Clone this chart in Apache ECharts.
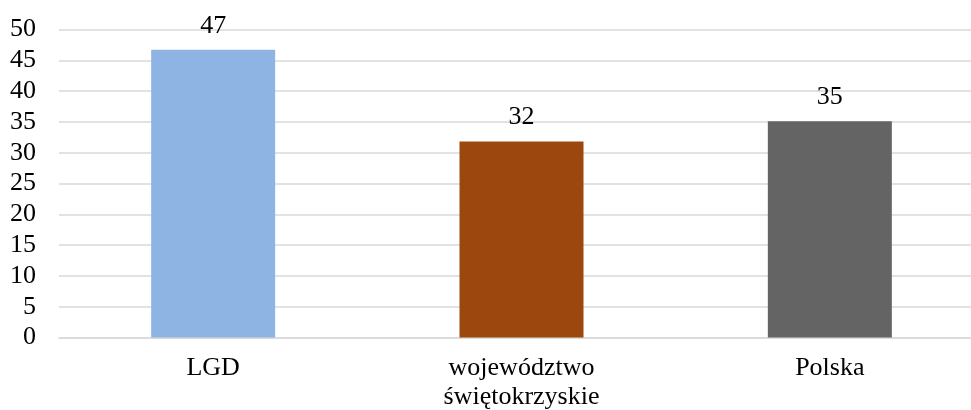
<!DOCTYPE html>
<html>
<head>
<meta charset="utf-8">
<script src="https://cdn.jsdelivr.net/npm/echarts@6/dist/echarts.min.js"></script>
<style>
  html, body { margin: 0; padding: 0; background: #fff; }
  #chart { width: 971px; height: 410px; }
</style>
</head>
<body>
<div id="chart"></div>
<script>
  const categories = ['LGD', 'województwo\nświętokrzyskie', 'Polska']
  const values = [46.7, 31.8, 35.1]
  const barColors = ['#8EB4E3', '#9C470D', '#646464']
  const yTicks = { min: 0, max: 50, interval: 5 }

  const chart = echarts.init(document.getElementById('chart'))
  const font = '"Liberation Serif", "Times New Roman", serif'

  chart.setOption({
    animation: false,
    grid: { left: 59, right: -13, top: 29.5, bottom: 72.5, outerBoundsMode: 'none', containLabel: false },
    xAxis: {
      type: 'category',
      data: categories,
      axisLine: { lineStyle: { color: '#d9d9d9', width: 1.5 } },
      axisTick: { show: false },
      axisLabel: {
        color: '#000',
        fontFamily: font,
        fontSize: 26,
        lineHeight: 29,
        margin: 16
      }
    },
    yAxis: {
      type: 'value',
      min: yTicks.min,
      max: yTicks.max,
      interval: yTicks.interval,
      axisLine: { show: false },
      axisTick: { show: false },
      splitLine: { lineStyle: { color: '#d9d9d9', width: 1.5 } },
      axisLabel: {
        color: '#000',
        fontFamily: font,
        fontSize: 26,
        margin: 23
      }
    },
    series: [{
      type: 'bar',
      barWidth: 124,
      data: values.map((v, i) => ({ value: v, itemStyle: { color: barColors[i] } })),
      label: {
        show: true,
        position: 'top',
        distance: 11,
        color: '#000',
        fontFamily: font,
        fontSize: 26,
        formatter: p => Math.round(p.value)
      }
    }]
  })
</script>
</body>
</html>
